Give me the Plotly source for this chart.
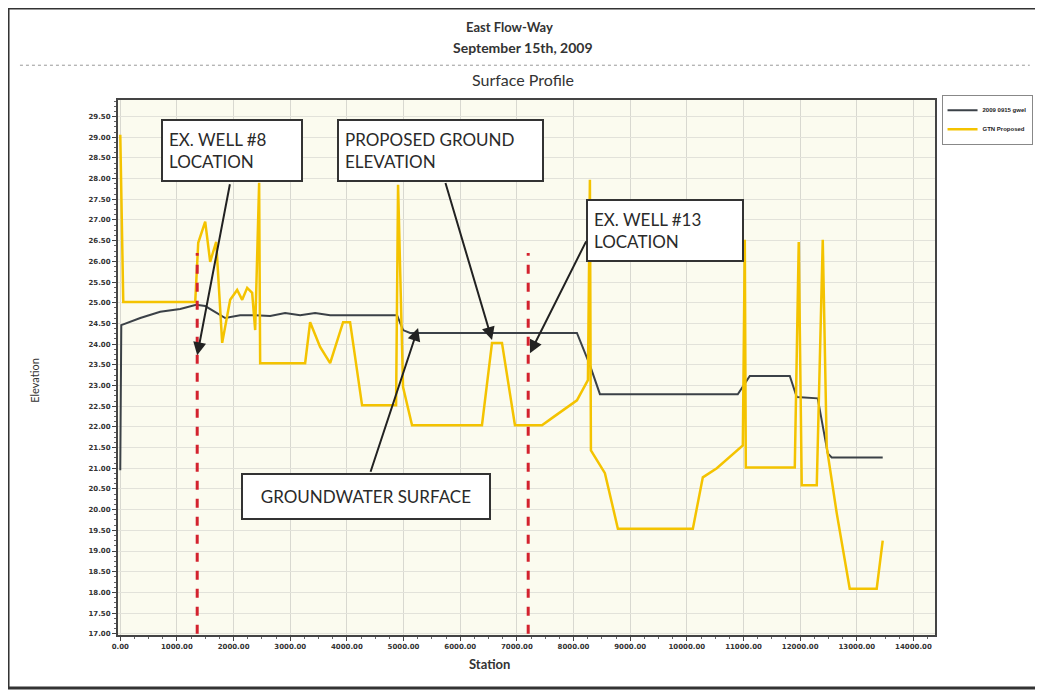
import plotly.graph_objects as go

# groundwater surface (2009-09-15)
gw_station = [0, 18, 353, 705, 1058, 1340, 1499, 1675, 1852, 2116, 2381, 2646, 2910,
              3175, 3439, 3704, 4885, 4991, 5115, 8060, 8289, 8466, 10899, 11111,
              11817, 11940, 12310, 12487, 12557, 13457]
gw_elev = [20.95, 24.46, 24.63, 24.78, 24.85, 24.95, 24.92, 24.78, 24.63, 24.70, 24.70,
           24.68, 24.75, 24.70, 24.75, 24.70, 24.70, 24.34, 24.27, 24.27, 23.49, 22.79,
           22.79, 23.23, 23.23, 22.72, 22.69, 21.36, 21.26, 21.26]

# proposed ground elevation
pg_station = [0, 53, 1323, 1376, 1499, 1587, 1693, 1799, 1940, 2063, 2152, 2240, 2328,
              2381, 2451, 2469, 3263, 3351, 3527, 3704, 3933, 4056, 4268, 4868, 4903,
              4991, 5150, 6384, 6561, 6737, 6966, 7443, 7637, 8060, 8254, 8289, 8307,
              8554, 8783, 10106, 10282, 10529, 10988, 11023, 11041, 11905, 11975,
              12028, 12293, 12399, 12469, 12646, 12875, 13351, 13457]
pg_elev = [29.06, 25.02, 25.02, 26.45, 26.96, 25.99, 26.47, 24.03, 25.07, 25.31, 25.07,
           25.36, 25.24, 24.34, 27.90, 23.54, 23.54, 24.53, 23.93, 23.54, 24.53, 24.53,
           22.52, 22.52, 27.85, 22.96, 22.04, 22.04, 24.03, 24.03, 22.04, 22.04, 22.23,
           22.64, 23.13, 27.97, 21.43, 20.88, 19.54, 19.54, 20.78, 21.00, 21.55, 26.52,
           21.02, 21.02, 26.47, 20.59, 20.59, 26.52, 21.51, 19.91, 18.09, 18.09, 19.25]

well_stations = [1358, 7200]
well_top = 26.2

x_ticks = [i * 1000 for i in range(15)]
y_ticks = [17 + i * 0.5 for i in range(26)]

fig = go.Figure()
fig.add_trace(go.Scatter(x=gw_station, y=gw_elev, mode='lines', name='2009 0915 gwel',
                         line=dict(color='#3b4147', width=2)))
fig.add_trace(go.Scatter(x=pg_station, y=pg_elev, mode='lines', name='GTN Proposed',
                         line=dict(color='#f4c300', width=2.5)))

# well locations
for st in well_stations:
    fig.add_shape(type='line', x0=st, x1=st, y0=17, y1=well_top, xref='x', yref='y',
                  line=dict(color='#d3222e', width=3, dash='dash'))

box_font = dict(family='Lato, Open Sans, sans-serif', size=17, color='#2a2a2a')
boxes = [
    ('EX. WELL #8<br>LOCATION', 1975, 28.68, 126),
    ('PROPOSED GROUND<br>ELEVATION', 5650, 28.68, 191),
    ('EX. WELL #13<br>LOCATION', 9620, 26.74, 142),
]
for txt, bx, by, w in boxes:
    fig.add_annotation(x=bx, y=by, xref='x', yref='y', text=txt, showarrow=False,
                       align='left', width=w, height=47, borderpad=6,
                       bgcolor='white', bordercolor='#333', borderwidth=2, font=box_font)
fig.add_annotation(x=4330, y=20.32, xref='x', yref='y', text='GROUNDWATER SURFACE',
                   showarrow=False, width=234, height=31, borderpad=6,
                   bgcolor='white', bordercolor='#333', borderwidth=2, font=box_font)

# arrows (tip, tail)
arrows = [
    (1358, 23.73, 1940, 27.90),
    (6561, 24.10, 5732, 27.93),
    (7231, 23.78, 8236, 26.52),
    (5256, 24.39, 4409, 20.88),
]
for tx, ty, sx, sy in arrows:
    fig.add_annotation(x=tx, y=ty, ax=sx, ay=sy, xref='x', yref='y', axref='x', ayref='y',
                       text='', showarrow=True, arrowhead=2, arrowsize=1.3,
                       arrowwidth=2, arrowcolor='#222')

# titles
title_font = dict(family='Lato, Open Sans, sans-serif', color='#333')
fig.add_annotation(x=0.4798, y=1.1364, xref='paper', yref='paper', text='<b>East Flow-Way</b>',
                   showarrow=False, yanchor='middle', font=dict(size=13, **title_font))
fig.add_annotation(x=0.4957, y=1.099, xref='paper', yref='paper',
                   text='<b>September 15th, 2009</b>', showarrow=False, yanchor='middle',
                   font=dict(size=14, **title_font))
fig.add_annotation(x=0.4957, y=1.0374, xref='paper', yref='paper', text='Surface Profile',
                   showarrow=False, yanchor='middle', font=dict(size=16, **title_font))
fig.add_annotation(x=-0.103, y=0.4766, xref='paper', yref='paper', text='Elevation',
                   textangle=-90, showarrow=False, xanchor='center', yanchor='middle',
                   font=dict(size=11, **title_font))
fig.add_annotation(x=0.4553, y=-0.054, xref='paper', yref='paper', text='<b>Station</b>',
                   showarrow=False, yanchor='middle', font=dict(size=13, **title_font))

# page frame and separator
fig.add_shape(type='rect', xref='paper', yref='paper', x0=-0.1346, x1=1.126, y0=-0.099,
              y1=1.172, line=dict(color='#333', width=3), layer='below')
fig.add_shape(type='line', xref='paper', yref='paper', x0=-0.12, x1=1.116, y0=1.065,
              y1=1.065, line=dict(color='#999', width=1, dash='dot'))

tick_font = dict(family='DejaVu Sans', size=7, color='#333', weight='bold')
fig.update_xaxes(range=[-40, 14380], tickvals=x_ticks, tickformat='.2f', tickfont=tick_font,
                 showgrid=True, gridcolor='#d8d8d0', gridwidth=1, zeroline=False,
                 showline=True, linecolor='#444', linewidth=2, mirror=True,
                 ticks='outside', ticklen=4, tickcolor='#444',
                 minor=dict(dtick=250, ticks='outside', ticklen=2, tickcolor='#666'))
fig.update_yaxes(range=[16.97, 29.9], tickvals=y_ticks, tickformat='.2f', tickfont=tick_font,
                 showgrid=True, gridcolor='#e2e2da', gridwidth=1, zeroline=False,
                 showline=True, linecolor='#444', linewidth=2, mirror=True,
                 ticks='outside', ticklen=4, tickcolor='#444',
                 minor=dict(dtick=0.125, ticks='outside', ticklen=2, tickcolor='#666'))

# page body adds an 8px offset, margins compensate
fig.update_layout(
    width=1043, height=692,
    margin=dict(l=110, r=116, t=92, b=65, autoexpand=False),
    paper_bgcolor='white', plot_bgcolor='#fbfbef',
    showlegend=True,
    legend=dict(x=1.008, y=1.01, xanchor='left', yanchor='top',
                font=dict(family='Liberation Sans Narrow, Liberation Sans', size=6,
                          color='#222', weight='bold'),
                bordercolor='#888', borderwidth=1, bgcolor='white',
                tracegroupgap=0, itemwidth=30),
)

fig.write_html("out.html")
